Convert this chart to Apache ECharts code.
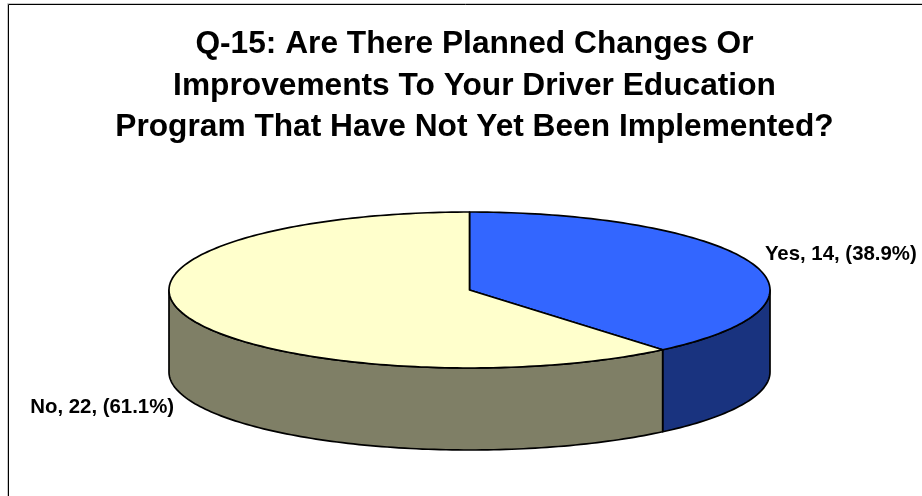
<!DOCTYPE html>
<html>
<head>
<meta charset="utf-8">
<style>html,body{margin:0;padding:0;background:#fff}#c{width:922px;height:496px}</style>
<script src="https://cdn.jsdelivr.net/npm/echarts@6/dist/echarts.min.js"></script>
</head>
<body>
<div id="c"></div>
<script>
var titleLines = [
  'Q-15: Are There Planned Changes Or',
  'Improvements To Your Driver Education',
  'Program That Have Not Yet Been Implemented?'
];
var categories = ['Yes', 'No'];
var counts = [14, 22];
var topColors = ['#3366ff', '#ffffcc'];
var sideColors = ['#19337f', '#7f7f66'];

var total = counts.reduce(function (a, b) { return a + b; }, 0);
var cx = 469.5, cy = 290, rx = 300.5, ry = 78, depth = 82;
var TAU = Math.PI * 2;

function pt(t, dy) {
  return [cx + rx * Math.sin(t), cy - ry * Math.cos(t) + (dy || 0)];
}
function arc(a, b, dy) {
  var n = Math.max(2, Math.ceil((b - a) / 0.02)), out = [];
  for (var i = 0; i <= n; i++) out.push(pt(a + (b - a) * i / n, dy));
  return out;
}

var rows = [], acc = 0;
counts.forEach(function (v, i) {
  rows.push([v, acc, i]);
  acc += v;
});

function renderItem(params, api) {
  var v = api.value(0), start = api.value(1), i = api.value(2);
  var a = start / total * TAU, b = (start + v) / total * TAU, mid = (a + b) / 2;
  var children = [];
  var sa = Math.max(a, Math.PI / 2), sb = Math.min(b, Math.PI * 1.5);
  var lineStyle = { stroke: '#000', lineWidth: 1.7, lineJoin: 'round' };
  if (sb > sa) {
    children.push({
      type: 'polygon', z2: 1,
      shape: { points: arc(sa, sb, 0).concat(arc(sa, sb, depth).reverse()) },
      style: Object.assign({ fill: sideColors[i] }, lineStyle)
    });
  }
  children.push({
    type: 'polygon', z2: 2,
    shape: { points: [[cx, cy]].concat(arc(a, b, 0)) },
    style: Object.assign({ fill: topColors[i] }, lineStyle)
  });
  var right = Math.sin(mid) > 0;
  var anchor = pt(mid, right ? 0 : depth);
  children.push({
    type: 'text', z2: 3,
    style: {
      x: anchor[0] + (right ? 13 : -13),
      y: anchor[1] + (right ? -9 : 9),
      text: categories[i] + ', ' + v + ', (' + (v / total * 100).toFixed(1) + '%)',
      fill: '#000',
      font: 'bold 20.4px "Liberation Sans", Arial, sans-serif',
      align: right ? 'left' : 'right',
      verticalAlign: 'middle'
    }
  });
  return { type: 'group', children: children };
}

var chart = echarts.init(document.getElementById('c'), null, { renderer: 'canvas' });
chart.setOption({
  animation: false,
  backgroundColor: '#fff',
  title: {
    text: titleLines.join('\n'),
    left: 469.5,
    top: 19,
    textAlign: 'center',
    textStyle: {
      fontFamily: '"Liberation Sans", Arial, sans-serif',
      fontWeight: 'bold',
      fontSize: 31.7,
      lineHeight: 41.5,
      color: '#000'
    }
  },
  graphic: [{
    type: 'rect',
    shape: { x: 7.5, y: 3.5, width: 940, height: 520 },
    style: { fill: 'none', stroke: '#c8c8c8', lineWidth: 1 },
    silent: true
  }, {
    type: 'rect',
    shape: { x: 8.5, y: 4.5, width: 940, height: 520 },
    style: { fill: 'none', stroke: '#000', lineWidth: 1 },
    silent: true
  }],
  series: [{
    type: 'custom',
    coordinateSystem: 'none',
    silent: true,
    renderItem: renderItem,
    data: rows
  }]
});
</script>
</body>
</html>
